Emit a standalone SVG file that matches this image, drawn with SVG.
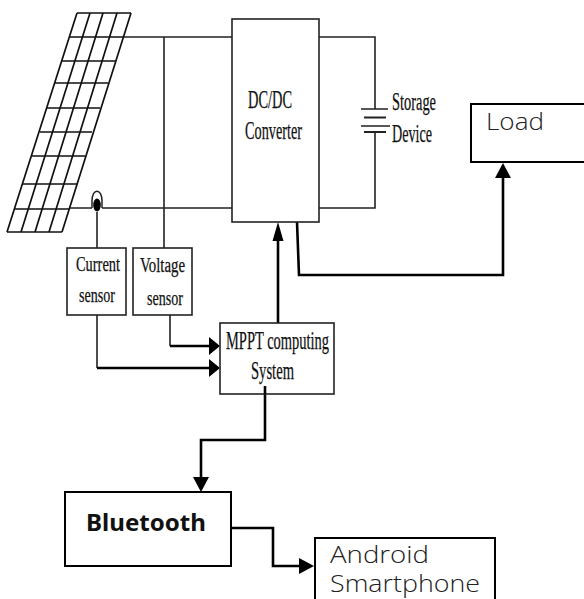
<svg xmlns="http://www.w3.org/2000/svg" width="584" height="599" viewBox="0 0 584 599">
<style>
.box{fill:#fff;stroke:#222;stroke-width:1.6}
.bx2{fill:#fff;stroke:#000;stroke-width:2}
.w{fill:none;stroke:#222;stroke-width:1.6}
.t{fill:none;stroke:#000;stroke-width:2.6}
.g{fill:none;stroke:#111;stroke-width:1.7}
.h{fill:#000;stroke:none}
.s{font-family:"Liberation Serif","Times New Roman",serif;font-size:25px;fill:#111;stroke:#111;stroke-width:.25}
.n{font-size:20px}
.o{font-family:"Open Sans","Noto Sans",sans-serif;font-size:24px;font-weight:300;fill:#222}
.b{font-family:"Noto Sans","Open Sans",sans-serif;font-size:24px;font-weight:700;fill:#111}
</style>
<g id="solar-panel">
<path class="g" d="M77 13H131M70 37H124M62 61H116M55 83H108M47 108H100M40 132H92M32 156H85M23 184H77M15 209H69M7 232H62"/>
<path class="g" d="M77 13L7 232M90 13L21 232M103 13L35 232M117 13L49 232M131 13L62 232"/>
</g>
<g id="connectors">
<path class="w" d="M124 37H232M164 37V248M70 208H92M102 208H232M97 212V248"/>
<path class="w" d="M319 37H375V109M375 132V208H319"/>
<path class="w" d="M361 109H388M361 126H390"/>
<path d="M364 117.500H386M364 132H386" fill="none" stroke="#222" stroke-width="2"/>
<path class="w" d="M170 315V346M97 315V368"/>
<path class="t" d="M170 346H210M97 368H210M278 323V240M297 222L299 275H503V177M265 386V440H201V478M231 528H273V566H300"/>
<path class="h" d="M220 346L209 337V355ZM220 368L209 359V377ZM278 222L272.500 241H283.500ZM503 163L495 178H511ZM201 492L193 477H209ZM314 566L299 558V574Z"/>
</g>
<g id="current-probe">
<path d="M92 208V201C92 188 102 188 102 201V208" fill="#fff" stroke="#222" stroke-width="1.500"/>
<ellipse cx="97" cy="205" rx="3.800" ry="6.500" fill="#000"/>
</g>
<g id="dcdc-converter">
<rect class="box" x="232" y="19" width="87" height="203"/>
<text class="s" x="248" y="108" textLength="44" lengthAdjust="spacingAndGlyphs">DC/DC</text>
<text class="s" x="245" y="139" textLength="57" lengthAdjust="spacingAndGlyphs">Converter</text>
</g>
<g id="storage-device">
<text class="s" x="392" y="110" textLength="44" lengthAdjust="spacingAndGlyphs">Storage</text>
<text class="s" x="392" y="142" textLength="40" lengthAdjust="spacingAndGlyphs">Device</text>
</g>
<g id="load">
<rect class="bx2" x="471" y="104" width="130" height="58"/>
<text class="o" x="486" y="130" textLength="58" lengthAdjust="spacingAndGlyphs">Load</text>
</g>
<g id="current-sensor">
<rect class="box" x="67" y="248" width="59" height="67"/>
<text class="s n" x="76" y="271" textLength="44" lengthAdjust="spacingAndGlyphs">Current</text>
<text class="s n" x="79" y="302" textLength="36" lengthAdjust="spacingAndGlyphs">sensor</text>
</g>
<g id="voltage-sensor">
<rect class="box" x="133" y="248" width="59" height="67"/>
<text class="s n" x="140" y="272" textLength="45" lengthAdjust="spacingAndGlyphs">Voltage</text>
<text class="s n" x="147" y="305" textLength="36" lengthAdjust="spacingAndGlyphs">sensor</text>
</g>
<g id="mppt-system">
<rect class="box" x="220" y="323" width="114" height="71"/>
<text class="s" x="226" y="349" textLength="103" lengthAdjust="spacingAndGlyphs">MPPT computing</text>
<text class="s" x="251" y="379" textLength="43" lengthAdjust="spacingAndGlyphs">System</text>
<path d="M265 386V394" stroke="#000" stroke-width="2.600" fill="none"/>
</g>
<g id="bluetooth">
<rect class="bx2" x="65" y="492" width="166" height="74"/>
<text class="b" x="86" y="531" textLength="120" lengthAdjust="spacingAndGlyphs">Bluetooth</text>
</g>
<g id="android-smartphone">
<rect class="bx2" x="315" y="538" width="180" height="80"/>
<text class="o" x="330" y="563" textLength="99" lengthAdjust="spacingAndGlyphs">Android</text>
<text class="o" x="330" y="592" textLength="150" lengthAdjust="spacingAndGlyphs" style="font-size:23px">Smartphone</text>
</g>
</svg>
